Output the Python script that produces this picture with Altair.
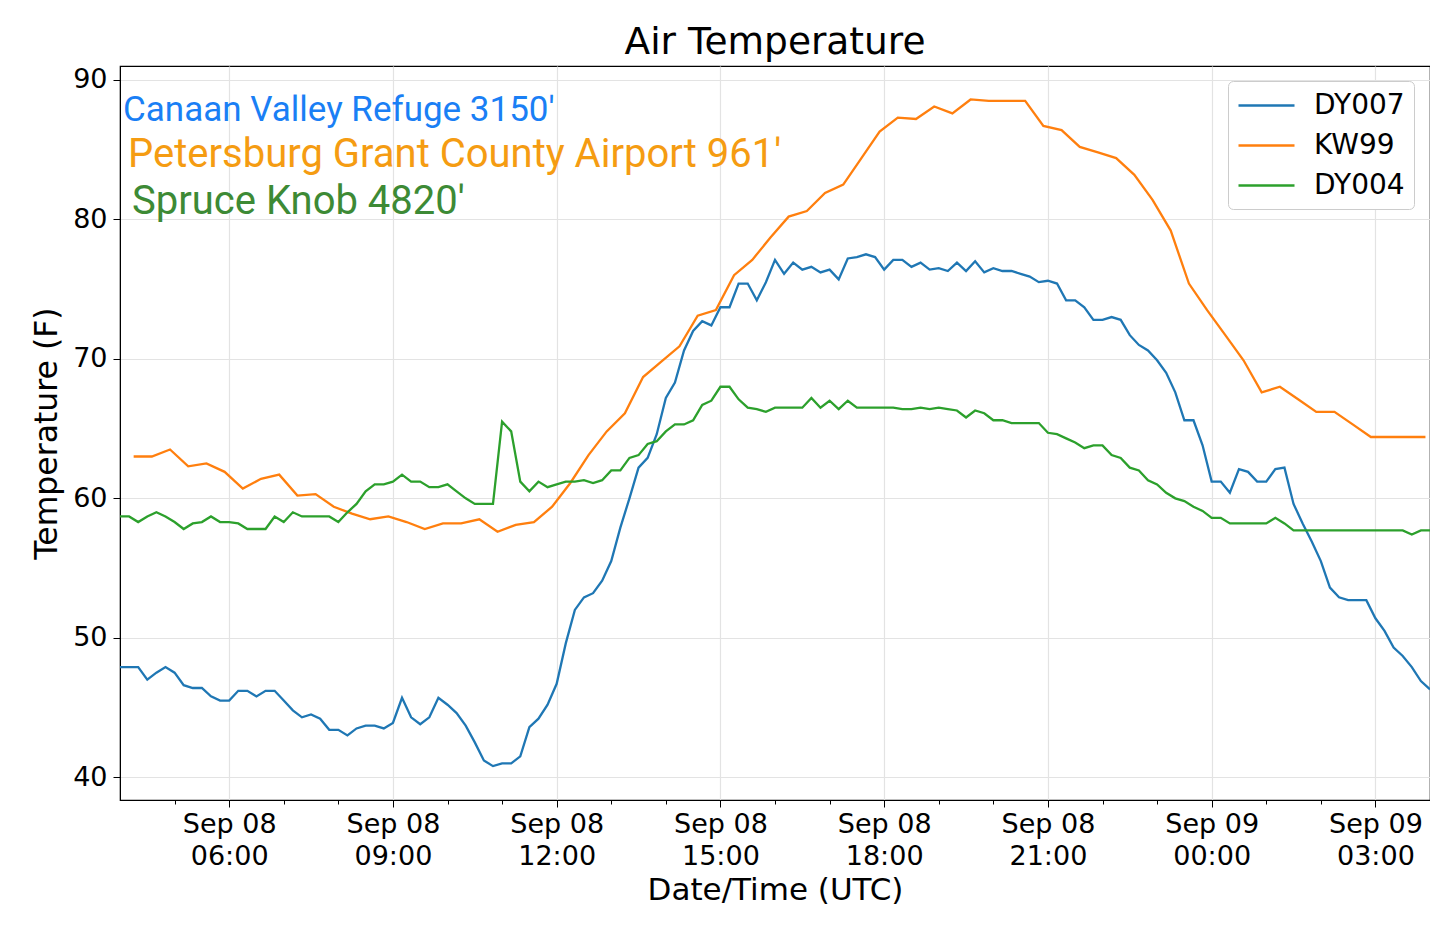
import pandas as pd
import altair as alt

stations = ["DY007", "KW99", "DY004"]
station_colors = ["#1f77b4", "#ff7f0e", "#2ca02c"]

site_labels = [
    "Canaan Valley Refuge 3150'",
    "Petersburg Grant County Airport 961'",
    "Spruce Knob 4820'",
]
site_colors = ["#1a7ff5", "#f59c12", "#3d8a35"]

# 10-minute readings, Sep 08 04:00 -> Sep 09 04:00 (UTC)
dy007 = [
    47.9, 47.9, 47.9, 47.0, 47.5, 47.9, 47.5, 46.6, 46.4, 46.4,
    45.8, 45.5, 45.5, 46.2, 46.2, 45.8, 46.2, 46.2, 45.5, 44.8,
    44.3, 44.5, 44.2, 43.4, 43.4, 43.0, 43.5, 43.7, 43.7, 43.5,
    43.9, 45.7, 44.3, 43.8, 44.3, 45.7, 45.2, 44.6, 43.7, 42.5,
    41.2, 40.8, 41.0, 41.0, 41.5, 43.6, 44.2, 45.2, 46.7, 49.6,
    52.0, 52.9, 53.2, 54.1,
    55.5, 57.9, 60.0, 62.2, 62.9, 64.6,
    67.2, 68.3, 70.6, 72.0, 72.7, 72.4,
    73.7, 73.7, 75.4, 75.4, 74.2, 75.5,
    77.1, 76.1, 76.9, 76.4, 76.6, 76.2,
    76.4, 75.7, 77.2, 77.3, 77.5, 77.3,
    76.4, 77.1, 77.1, 76.6, 76.9, 76.4,
    76.5, 76.3, 76.9, 76.3, 77.0, 76.2,
    76.5, 76.3, 76.3, 76.1, 75.9, 75.5,
    75.6, 75.4, 74.2, 74.2, 73.7, 72.8,
    72.8, 73.0, 72.8, 71.7, 71.0, 70.6,
    69.9, 69.0, 67.6, 65.6, 65.6, 63.8,
    61.2, 61.2, 60.4, 62.1, 61.9, 61.2,
    61.2, 62.1, 62.2, 59.6, 58.2, 56.9,
    55.5, 53.6, 52.9, 52.7, 52.7, 52.7,
    51.4, 50.5, 49.3, 48.7, 47.9, 46.9,
    46.3,
]

dy004 = [
    58.7, 58.7, 58.3, 58.7, 59.0, 58.7, 58.3, 57.8, 58.2, 58.3,
    58.7, 58.3, 58.3, 58.2, 57.8, 57.8, 57.8, 58.7, 58.3, 59.0,
    58.7, 58.7, 58.7, 58.7, 58.3, 59.0, 59.6, 60.5, 61.0, 61.0,
    61.2, 61.7, 61.2, 61.2, 60.8, 60.8, 61.0, 60.5, 60.0, 59.6,
    59.6, 59.6, 65.5, 64.8, 61.2, 60.5, 61.2, 60.8, 61.0, 61.2,
    61.2, 61.3, 61.1, 61.3,
    62.0, 62.0, 62.9, 63.1, 63.9, 64.1,
    64.8, 65.3, 65.3, 65.6, 66.7, 67.0,
    68.0, 68.0, 67.1, 66.5, 66.4, 66.2,
    66.5, 66.5, 66.5, 66.5, 67.2, 66.5,
    67.0, 66.4, 67.0, 66.5, 66.5, 66.5,
    66.5, 66.5, 66.4, 66.4, 66.5, 66.4,
    66.5, 66.4, 66.3, 65.8, 66.3, 66.1,
    65.6, 65.6, 65.4, 65.4, 65.4, 65.4,
    64.7, 64.6, 64.3, 64.0, 63.6, 63.8,
    63.8, 63.1, 62.9, 62.2, 62.0, 61.3,
    61.0, 60.4, 60.0, 59.8, 59.4, 59.1,
    58.6, 58.6, 58.2, 58.2, 58.2, 58.2,
    58.2, 58.6, 58.2, 57.7, 57.7, 57.7,
    57.7, 57.7, 57.7, 57.7, 57.7, 57.7,
    57.7, 57.7, 57.7, 57.7, 57.4, 57.7,
    57.7,
]

# 20-minute readings at :15 :35 :55, Sep 08 04:15 -> Sep 09 03:55
kw99 = [
    63.0, 63.0, 63.5, 62.3, 62.5, 61.9, 60.7, 61.4, 61.7, 60.2,
    60.3, 59.4, 58.9, 58.5, 58.7, 58.3, 57.8, 58.2, 58.2, 58.5,
    57.6, 58.1, 58.3, 59.4, 61.1, 63.1, 64.8, 66.1, 68.7, 69.8,
    70.9, 73.1, 73.5, 76.0, 77.1, 78.7, 80.2, 80.6, 81.9, 82.5,
    84.4, 86.3, 87.3, 87.2, 88.1, 87.6, 88.6, 88.5, 88.5, 88.5,
    86.7, 86.4, 85.2, 84.8, 84.4, 83.2, 81.4, 79.2, 75.4, 73.5,
    71.7, 69.9, 67.6, 68.0, 67.1, 66.2, 66.2, 65.3, 64.4, 64.4,
    64.4, 64.4,
]

start = pd.Timestamp("2018-09-08 04:00", tz="UTC")
end = start + pd.Timedelta(hours=24)


def stamps(first, step, n):
    return [(first + pd.Timedelta(minutes=step * i)).strftime("%Y-%m-%dT%H:%M:%SZ")
            for i in range(n)]


def ms(ts):
    return int(ts.value // 10**6)


df = pd.concat([
    pd.DataFrame({"time": stamps(start, 10, len(dy007)), "temp": dy007, "station": "DY007"}),
    pd.DataFrame({"time": stamps(start + pd.Timedelta(minutes=15), 20, len(kw99)), "temp": kw99, "station": "KW99"}),
    pd.DataFrame({"time": stamps(start, 10, len(dy004)), "temp": dy004, "station": "DY004"}),
])

hour_ticks = [ms(start + pd.Timedelta(hours=h)) for h in range(1, 24)]
major = "utchours(datum.value) % 3 == 0"

x_axis = alt.Axis(
    values=hour_ticks,
    labelExpr=f"{major} ? [utcFormat(datum.value, '%b %d'), utcFormat(datum.value, '%H:%M')] : ''",
    tickSize={"condition": {"test": major, "value": 7}, "value": 4},
    gridOpacity={"condition": {"test": major, "value": 1}, "value": 0},
    labelFlush=False,
    labelOverlap=False,
    labelFontSize=27,
    labelLineHeight=32,
    labelPadding=4,
    title="Date/Time (UTC)",
    titleFontSize=31,
    titlePadding=6,
)

y_axis = alt.Axis(
    values=[40, 50, 60, 70, 80, 90],
    tickSize=7,
    labelPadding=6,
    labelFontSize=27,
    labelFlush=False,
    title="Temperature (F)",
    titleFontSize=31.5,
    titlePadding=9,
)

lines = alt.Chart(df).mark_line(strokeWidth=2.3).encode(
    x=alt.X("time:T", scale=alt.Scale(type="utc", domain=[ms(start), ms(end)]), axis=x_axis),
    y=alt.Y("temp:Q", scale=alt.Scale(domain=[38.37, 91.0], nice=False, zero=False), axis=y_axis),
    color=alt.Color(
        "station:N",
        scale=alt.Scale(domain=stations, range=station_colors),
        legend=alt.Legend(
            title=None,
            orient="none",
            legendX=1108,
            legendY=15,
            symbolType="M-1,0L3,0",
            symbolSize=784,
            symbolStrokeWidth=2.5,
            labelOffset=46,
            labelFontSize=28,
            labelFont="DejaVu Sans",
            labelColor="#000",
            rowPadding=10,
            padding=9,
            fillColor="#ffffff",
            strokeColor="#cccccc",
            cornerRadius=5,
        ),
    ),
)

note_pos = [(3, 55, 35), (8, 101, 40), (12, 148, 40)]
notes = [
    alt.Chart(pd.DataFrame({"label": [label]})).mark_text(
        align="left", baseline="alphabetic", font="Roboto", fontSize=size, color=color
    ).encode(text="label:N", x=alt.value(px), y=alt.value(py))
    for label, color, (px, py, size) in zip(site_labels, site_colors, note_pos)
]

chart = alt.layer(lines, *notes).properties(
    width=1310,
    height=734,
    title=alt.TitleParams("Air Temperature", fontSize=37.5, font="DejaVu Sans",
                          fontWeight="normal", color="#000", anchor="middle", offset=4),
    autosize=alt.AutoSizeParams(type="none"),
    padding={"left": 112, "top": 58, "right": 0, "bottom": 112},
).configure_view(
    stroke="#000", strokeWidth=1.2
).configure_axis(
    domainColor="#000", tickColor="#000", labelColor="#000", titleColor="#000",
    gridColor="#e3e3e3", gridWidth=1.2,
    labelFont="DejaVu Sans", titleFont="DejaVu Sans", titleFontWeight="normal",
)

chart.save("out.html", embed_options={"renderer": "svg", "actions": False})
